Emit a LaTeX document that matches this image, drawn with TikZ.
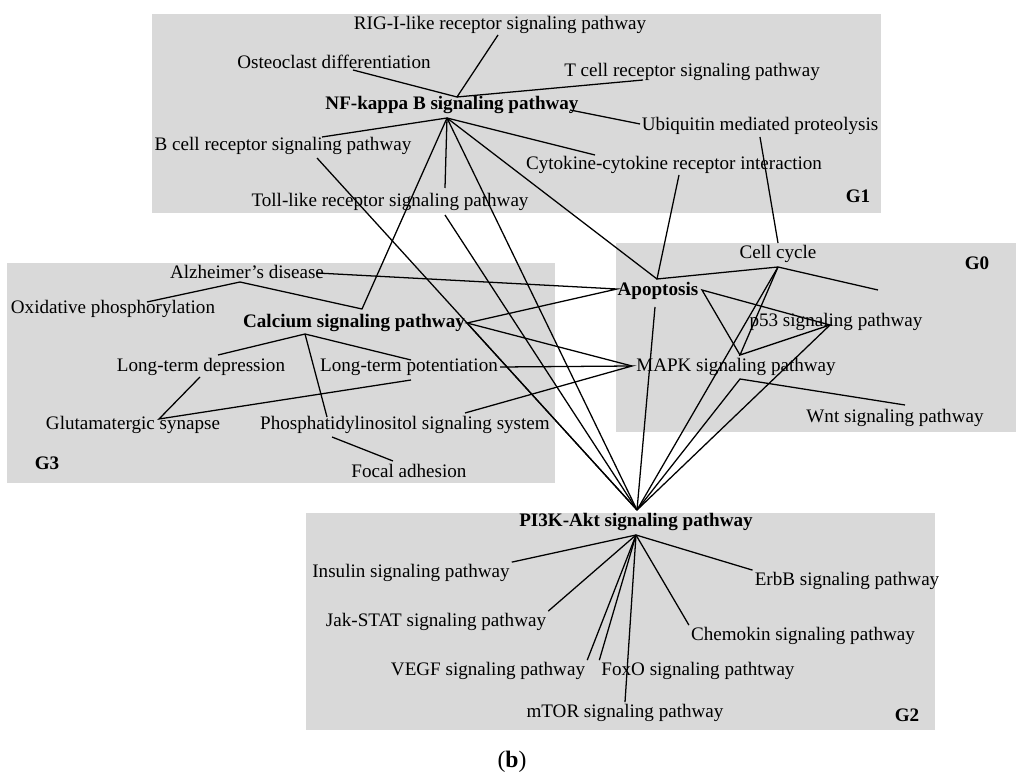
\documentclass[tikz,border=0pt]{standalone}
\usepackage{fontspec}
\setmainfont{Liberation Serif}
\begin{document}
\begin{tikzpicture}[x=0.55pt,y=-0.55pt,
  every node/.style={font=\fontsize{10.5}{12}\selectfont, inner sep=1pt},
  grp/.style={fill=black!15},
  hub/.style={font=\fontsize{10.5}{12}\selectfont\bfseries},
  edge/.style={line width=0.7pt}]
\useasboundingbox (0,0) rectangle (1024,779);

% --------- Group boxes ----------
\fill[grp] (152,14) rectangle (881,213);
\fill[grp] (616,243) rectangle (1016,432);
\fill[grp] (7,263) rectangle (555,483);
\fill[grp] (306,513) rectangle (935,730);

\node[hub] at (858,196) {G1};
\node[hub] at (977,263) {G0};
\node[hub] at (47,463) {G3};
\node[hub] at (907,715) {G2};

% --------- Pathway labels ----------
\node (rig)   at (500,25)  {RIG-I-like receptor signaling pathway};
\node (osteo) at (334,62)  {Osteoclast differentiation};
\node (tcr)   at (692,72)  {T cell receptor signaling pathway};
\node[hub] (nfkb) at (452,105) {NF-kappa B signaling pathway};
\node (ubiq)  at (760,126) {Ubiquitin mediated proteolysis};
\node (bcr)   at (283,146) {B cell receptor signaling pathway};
\node (cyto)  at (674,165) {Cytokine-cytokine receptor interaction};
\node (toll)  at (390,202) {Toll-like receptor signaling pathway};
\node (ccyc)  at (778,254) {Cell cycle};
\node (alz)   at (247,272) {Alzheimer's disease};
\node[hub] (apop) at (658,291) {Apoptosis};
\node (oxph)  at (113,309) {Oxidative phosphorylation};
\node[hub] (calc) at (354,323) {Calcium signaling pathway};
\node (p53)   at (836,322) {p53 signaling pathway};
\node (ltd)   at (201,367) {Long-term depression};
\node (ltp)   at (409,367) {Long-term potentiation};
\node (mapk)  at (736,367) {MAPK signaling pathway};
\node (wnt)   at (895,418) {Wnt signaling pathway};
\node (glut)  at (133,425) {Glutamatergic synapse};
\node (phos)  at (405,425) {Phosphatidylinositol signaling system};
\node (focal) at (409,471) {Focal adhesion};
\node[hub] (pi3k) at (636,522) {PI3K-Akt signaling pathway};
\node (ins)   at (411,573) {Insulin signaling pathway};
\node (erbb)  at (847,581) {ErbB signaling pathway};
\node (jak)   at (436,622) {Jak-STAT signaling pathway};
\node (chem)  at (803,636) {Chemokin signaling pathway};
\node (vegf)  at (488,671) {VEGF signaling pathway};
\node (foxo)  at (698,671) {FoxO signaling pathtway};
\node (mtor)  at (625,713) {mTOR signaling pathway};
\node[font=\fontsize{13}{15}\selectfont] (cap) at (512,762) {(\textbf{b})};

% --------- Connector end points ----------
\coordinate (h0) at (457,97);   \coordinate (h1) at (447,118);
\coordinate (rigP) at (498,35); \coordinate (osteoP) at (353,70);
\coordinate (tcrP) at (643,80); \coordinate (nfR) at (570,110);
\coordinate (ubL) at (640,124); \coordinate (ubB) at (760,137);
\coordinate (bcrA) at (322,137); \coordinate (bcrB) at (317,158);
\coordinate (cytoA) at (595,155); \coordinate (cytoB) at (679,175);
\coordinate (tollA) at (445,188); \coordinate (tollB) at (445,215);
\coordinate (ccT) at (778,243); \coordinate (ccB) at (778,267);
\coordinate (apT) at (657,279); \coordinate (apL) at (617,289);
\coordinate (apR) at (702,290); \coordinate (apB) at (655,307);
\coordinate (alzR) at (317,273); \coordinate (alzB) at (240,282);
\coordinate (oxR) at (147,302); \coordinate (caT) at (362,309);
\coordinate (caR) at (467,323); \coordinate (caB) at (305,334);
\coordinate (p5L) at (830,325); \coordinate (p5R) at (878,290);
\coordinate (mkL) at (632,366); \coordinate (mkA) at (740,355);
\coordinate (mkB) at (740,379); \coordinate (wntT) at (905,405);
\coordinate (ltdR) at (218,355); \coordinate (ltdB) at (200,377);
\coordinate (ltpL) at (411,360); \coordinate (ltpR) at (500,367);
\coordinate (ltpB) at (411,380); \coordinate (glR) at (159,419);
\coordinate (phT) at (327,417); \coordinate (phB) at (332,437);
\coordinate (phR) at (465,413); \coordinate (foT) at (393,461);
\coordinate (pkT) at (637,510); \coordinate (pkB) at (636,535);

% --------- Connectors ----------
\draw[edge] (osteoP) -- (h0) -- (rigP);
\draw[edge] (h0) -- (tcrP);
\draw[edge] (nfR) -- (ubL);
\draw[edge] (bcrA) -- (h1) -- (cytoA);
\draw[edge] (h1) -- (tollA);
\draw[edge] (h1) -- (apT);
\draw[edge] (h1) -- (pkT);
\draw[edge] (oxR) -- (alzB) -- (caT) -- (h1);
\draw[edge] (bcrB) -- (pkT);
\draw[edge] (tollB) -- (pkT);
\draw[edge] (cytoB) -- (apT) -- (ccB);
\draw[edge] (ubB) -- (ccT);
\draw[edge] (alzR) -- (apL) -- (caR) -- (mkL);
\draw[edge] (caR) -- (pkT);
\draw[edge] (ltpR) -- (mkL) -- (phR);
\draw[edge] (apB) -- (pkT);
\draw[edge] (ccB) -- (p5R);
\draw[edge] (ccB) -- (mkA) -- (p5L) -- (apR) -- (mkA);
\draw[edge] (ccB) -- (pkT);
\draw[edge] (p5L) -- (pkT);
\draw[edge] (wntT) -- (mkB) -- (pkT);
\draw[edge] (ltdR) -- (caB) -- (ltpL);
\draw[edge] (caB) -- (phT);
\draw[edge] (ltdB) -- (glR) -- (ltpB);
\draw[edge] (phB) -- (foT);
% PI3K-Akt fan
\foreach \t/\a in {ins/north east, jak/north east, vegf/north east,
  mtor/north, foxo/north west, chem/north west, erbb/north west}
  \draw[edge] (pkB) -- (\t.\a);
\end{tikzpicture}
\end{document}
